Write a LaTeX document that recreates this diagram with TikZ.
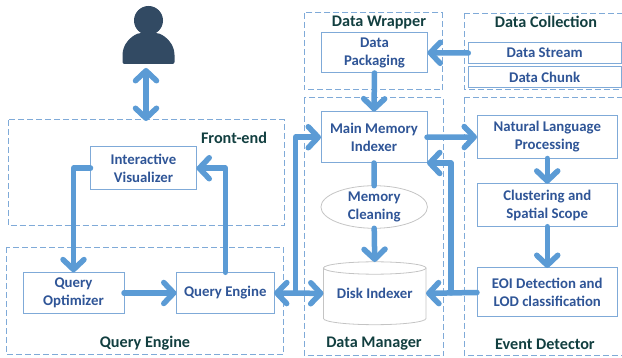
\documentclass[tikz,border=0pt]{standalone}
\usepackage{fontspec}
\setmainfont{Carlito}
\usetikzlibrary{arrows.meta,shapes.geometric}
\definecolor{flow}{HTML}{5B9BD5}
\definecolor{edgeblue}{HTML}{7FAAD8}
\definecolor{txtblue}{HTML}{2F5597}
\definecolor{lblgreen}{HTML}{123F40}
\definecolor{person}{HTML}{324A63}
\definecolor{softgrey}{HTML}{C4C4C4}
\tikzset{
  x=1pt,y=-1pt,
  zone/.style={draw=edgeblue,line width=1pt,dash pattern=on 6pt off 3pt},
  zonetitle/.style={font=\fontsize{16.2}{18}\selectfont\bfseries,text=lblgreen,inner sep=0pt},
  unit/.style={text=txtblue,font=\fontsize{14.8}{18}\selectfont\bfseries,align=center,inner sep=0pt,outer sep=0pt,anchor=center},
  unitbox/.style={unit,draw=edgeblue,line width=1pt,fill=white},
  flowline/.style={draw=flow,line width=5.5pt,line cap=round,line join=round},
  flowtip/.style={flowline,-{Straight Barb[round,length=10pt,width=21pt,line width=5.5pt]}},
  flowboth/.style={flowline,{Straight Barb[round,length=10pt,width=21pt,line width=5.5pt]}-{Straight Barb[round,length=10pt,width=21pt,line width=5.5pt]}},
}
\newcommand{\unitat}[7]{% name, x0, y0, x1, y1, style, text
  \node[#6,minimum width=#4pt-#2pt,minimum height=#5pt-#3pt] (#1) at ({(#2+#4)/2},{(#3+#5)/2}) {#7};}
\begin{document}
\begin{tikzpicture}
\useasboundingbox (0,0) rectangle (622,358);
% zones
\draw[zone] (8,120) rectangle (284,225.5);
\draw[zone] (6.5,247.5) rectangle (283,355);
\draw[zone] (304,13) rectangle (442.7,90);
\draw[zone] (304,98) rectangle (443.7,355.5);
\draw[zone] (464.3,13.5) -- (621.5,13.5) (464.3,13.5) -- (464.3,90) -- (621.5,90);
\draw[zone] (464.3,98) -- (621.5,98) (464.3,98) -- (464.3,355.5) -- (621.5,355.5);
% zone titles
\node[zonetitle] (tfe) at (234,138) {Front-end};
\node[zonetitle] (tqe) at (145,343) {Query Engine};
\node[zonetitle] (tdw) at (379,23) {Data Wrapper};
\node[zonetitle] (tdc) at (546,22) {Data Collection};
\node[zonetitle] (tdm) at (374,344) {Data Manager};
\node[zonetitle] (ted) at (545,344) {Event Detector};
% person
\fill[person,rounded corners=2pt] (122.5,64) -- (122.5,57) .. controls (122.5,44) and (131,36.5) .. (139,33) -- (158,33) .. controls (166,36.5) and (174.5,44) .. (174.5,57) -- (174.5,64) -- cycle;
\fill[person] (148.5,20.5) circle (14.5);
\coordinate (userport) at (146,68);
\coordinate (frontport) at (146,121);
% units
\unitat{iv}{90.5}{147}{196.5}{189.5}{unitbox}{Interactive\\Visualizer}
\unitat{qo}{23}{272.3}{124}{313.7}{unitbox}{Query\\Optimizer}
\unitat{qe}{176.5}{272.3}{274}{313.7}{unitbox}{Query Engine}
\unitat{dp}{321.5}{32.5}{427.5}{73}{unitbox}{Data\\Packaging}
\unitat{mmi}{321}{111.5}{427}{163}{unitbox}{Main Memory\\Indexer}
\unitat{ds}{468.3}{42.5}{621}{63.5}{unitbox}{Data Stream}
\unitat{dc}{468.3}{66.5}{621}{87.5}{unitbox}{Data Chunk}
\unitat{nlp}{477}{115.5}{617.5}{158.5}{unitbox}{Natural Language\\Processing}
\unitat{cl}{477}{183.7}{617.5}{226.7}{unitbox}{Clustering and\\Spatial Scope}
\unitat{eoi}{477}{268}{617.5}{317}{unitbox}{EOI Detection and\\LOD classification}
\node[unit,draw=softgrey,line width=0.8pt,ellipse,minimum width=106.5pt,minimum height=42pt] (mem) at (374.2,207) {Memory\\Cleaning};
% disk
\draw[softgrey,line width=0.8pt] (323.5,268) -- (323.5,318.5) arc[start angle=180,end angle=0,x radius=51.25,y radius=6.2] -- (426,268);
\draw[softgrey,line width=0.8pt] (374.75,268) ellipse [x radius=51.25,y radius=6.2];
\unitat{disk}{323.5}{262}{426}{324.7}{unit}{Disk Indexer}
% connectors
\draw[flowboth] (userport) -- (frontport);
\draw[flowtip] (iv.west) -| (qo.north);
\draw[flowtip] (qe.north) |- (iv.east);
\draw[flowtip] (qo.east) -- (qe.west);
\draw[flowboth] (qe.east) -- (disk.west);
\coordinate (qejoin) at (295.5,293);
\draw[flowtip] (qejoin) |- (mmi.west);
\draw[flowtip] (ds.west) -- (dp.east);
\draw[flowtip] (dp.south) -- (mmi.north);
\draw[flowtip] (mmi.east) -- (nlp.west);
\draw[flowline] (mmi.south) -- (mem.north);
\draw[flowtip] (mem.south) -- (disk.north);
\draw[flowtip] (nlp.south) -- (cl.north);
\draw[flowtip] (cl.south) -- (eoi.north);
\draw[flowtip] (eoi.west) -- (disk.east);
\coordinate (eoijoin) at (451,293);
\draw[flowtip] (eoijoin) |- (mmi.south east);
\end{tikzpicture}
\end{document}
